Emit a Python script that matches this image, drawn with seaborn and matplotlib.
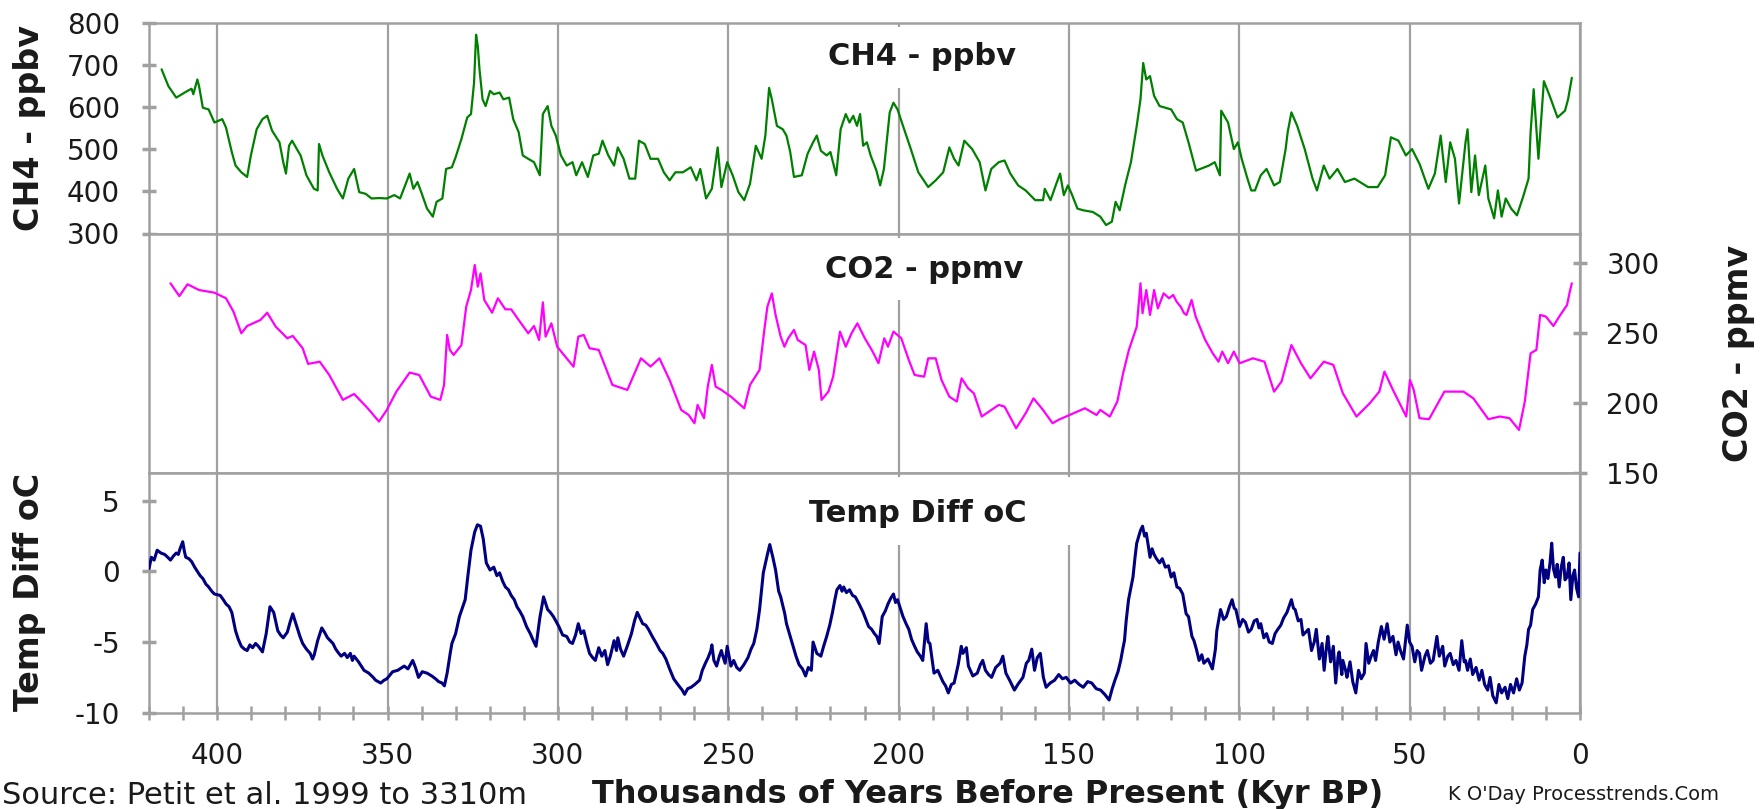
import matplotlib
matplotlib.use("Agg")
import matplotlib.pyplot as plt
import pandas as pd
import seaborn as sns
from matplotlib.patches import Rectangle
from matplotlib.ticker import MultipleLocator

# ---------------- data ----------------
ch4_age = [416.3, 414.3, 412.0, 408.7, 407.5, 407.0, 405.8, 405.3, 404.2, 402.5, 400.8, 398.5, 397.4,
           395.7, 394.6, 392.9, 391.2, 390.1, 388.4, 386.7, 385.3, 383.9, 381.7, 380.6, 379.8, 378.9,
           378.0, 376.6, 375.5, 373.8, 371.6, 370.5, 370.1, 369.1, 367.1, 364.8, 363.1, 361.5, 359.8,
           358.3, 356.4, 354.7, 352.5, 350.2, 348.0, 346.3, 343.5, 342.4, 341.2, 340.1, 338.4, 336.7,
           335.6, 333.9, 332.8, 331.1, 330.0, 328.3, 326.6, 325.5, 324.6, 324.0, 323.5, 323.0, 322.1,
           321.2, 319.9, 318.8, 317.1, 316.0, 314.3, 313.1, 311.5, 310.3, 308.7, 307.0, 305.3, 304.4,
           303.0, 301.9, 300.6, 299.1, 297.4, 295.7, 294.6, 292.9, 291.2, 289.6, 288.0, 286.9, 285.2,
           283.5, 282.4, 280.7, 279.0, 277.3, 276.2, 274.5, 272.8, 270.6, 268.9, 267.2, 265.5, 263.3,
           261.0, 259.3, 258.2, 256.5, 254.8, 253.1, 252.0, 250.3, 248.7, 247.0, 245.3, 243.6, 241.9,
           240.2, 239.1, 238.0, 237.2, 235.7, 234.0, 232.9, 231.8, 230.7, 228.4, 226.7, 225.1, 224.0,
           222.8, 221.1, 220.0, 218.3, 217.0, 215.5, 214.4, 213.3, 212.2, 211.3, 210.4, 209.3, 208.2,
           206.5, 205.4, 204.3, 202.6, 201.5, 200.3, 198.7, 196.4, 194.2, 191.3, 189.1, 186.9, 185.1,
           183.7, 182.4, 180.7, 178.4, 176.2, 174.5, 172.8, 170.6, 168.9, 167.2, 164.9, 162.7, 159.9,
           157.6, 157.1, 155.4, 153.7, 152.6, 151.5, 150.3, 149.2, 147.5, 145.8, 143.0, 140.8, 139.1,
           137.4, 136.3, 135.1, 133.4, 131.8, 130.1, 129.0, 128.2, 127.3, 126.2, 125.0, 123.4, 121.7,
           120.0, 118.3, 116.6, 114.9, 112.7, 108.9, 107.2, 105.7, 105.3, 103.3, 101.6, 100.4, 99.3,
           97.6, 96.5, 95.4, 93.7, 92.0, 89.8, 88.1, 86.4, 85.8, 84.7, 83.0, 80.8, 78.5, 77.2, 75.2,
           73.5, 71.2, 69.0, 66.2, 62.2, 59.4, 57.2, 55.5, 53.3, 51.1, 49.3, 47.1, 44.5, 42.6, 40.9,
           39.4, 38.1, 36.7, 35.5, 33.6, 33.0, 31.9, 30.8, 29.7, 27.8, 26.9, 25.2, 24.1, 23.0, 21.8,
           20.2, 18.5, 16.7, 15.1, 14.5, 13.6, 12.2, 10.6, 8.9, 6.6, 4.4, 3.5, 2.4]
ch4_ppbv = [689, 649, 622, 638, 643, 630, 665, 649, 598, 594, 563, 571, 551,
            493, 461, 445, 434, 485, 547, 571, 579, 544, 516, 469, 442, 508,
            520, 500, 485, 438, 406, 402, 512, 485, 445, 406, 383, 430, 453,
            398, 394, 383, 384, 383, 391, 383, 442, 406, 422, 398, 359, 340,
            375, 383, 453, 457, 481, 524, 575, 583, 657, 771, 744, 689, 618,
            602, 638, 630, 634, 618, 622, 571, 540, 485, 477, 469, 438, 583,
            602, 555, 532, 485, 461, 469, 438, 469, 434, 485, 489, 520, 485,
            461, 504, 477, 430, 430, 520, 512, 477, 477, 445, 426, 445, 445,
            457, 426, 453, 383, 406, 504, 410, 469, 438, 398, 379, 418, 508,
            477, 532, 645, 618, 555, 547, 532, 493, 434, 438, 489, 516, 532,
            496, 485, 493, 438, 547, 583, 563, 579, 555, 583, 508, 516, 485,
            449, 414, 453, 587, 610, 594, 555, 500, 445, 410, 426, 445, 504,
            477, 461, 520, 500, 469, 402, 453, 469, 473, 442, 414, 402, 379,
            379, 406, 379, 418, 442, 391, 414, 394, 359, 355, 351, 340, 320,
            328, 375, 355, 418, 469, 555, 618, 704, 665, 673, 626, 602, 598,
            594, 571, 563, 516, 449, 461, 469, 438, 591, 563, 500, 516, 477,
            430, 402, 402, 438, 453, 414, 422, 500, 540, 587, 555, 500, 430, 402, 461,
            430, 453, 422, 430, 410, 410, 438, 528, 520, 485, 500, 465, 406, 442, 532,
            422, 516, 477, 371, 516, 547, 398, 485, 391, 461, 383, 336, 402, 340, 383,
            359, 343, 387, 430, 540, 642, 477, 661, 626, 575, 591, 618, 669]

co2_age = [413.7, 411.1, 408.7, 405.3, 400.8, 397.4, 395.2, 392.9, 391.2, 387.3, 385.3, 382.8, 379.4,
           377.8, 374.9, 373.3, 369.9, 367.1, 363.1, 359.8, 355.8, 352.5, 350.2, 347.4, 343.5, 340.7,
           337.3, 334.5, 333.4, 332.5, 331.7, 330.6, 328.3, 326.9, 325.5, 324.4, 323.5, 322.7, 321.6,
           319.3, 317.6, 315.4, 313.7, 311.5, 308.7, 307.0, 305.5, 304.4, 303.6, 301.9, 300.2, 297.4,
           295.4, 294.0, 292.4, 290.7, 288.0, 284.0, 279.6, 275.6, 272.8, 270.2, 267.2, 263.8, 261.6,
           259.9, 259.0, 257.1, 256.0, 254.8, 253.7, 252.0, 249.2, 245.3, 243.6, 240.8, 239.4, 238.5,
           237.2, 236.1, 234.6, 233.5, 232.4, 230.7, 229.6, 227.3, 226.2, 224.8, 223.4, 222.6, 220.6,
           219.2, 217.2, 215.5, 213.8, 212.1, 209.9, 207.6, 205.9, 204.2, 203.1, 201.5, 199.2, 197.0,
           195.3, 192.5, 191.3, 189.1, 187.4, 185.1, 182.9, 181.5, 179.6, 177.9, 175.6, 172.8, 170.6,
           168.9, 165.5, 162.7, 160.4, 157.6, 154.8, 153.1, 148.7, 145.3, 141.9, 140.8, 138.0, 135.8,
           134.1, 132.4, 130.1, 129.0, 128.4, 127.3, 126.2, 125.0, 123.9, 122.2, 120.6, 119.4, 118.4,
           117.2, 116.2, 115.5, 114.0, 112.8, 110.0, 107.8, 106.1, 105.0, 103.3, 101.6, 99.9, 96.0,
           92.6, 89.8, 87.6, 84.7, 81.9, 79.1, 75.2, 72.4, 69.6, 65.6, 61.7, 58.9, 57.4, 54.9, 51.0,
           49.9, 48.8, 47.1, 44.3, 39.8, 34.2, 31.3, 26.9, 23.5, 20.7, 17.9, 16.2, 14.5, 12.8, 11.7,
           10.0, 7.8, 6.1, 3.8, 3.0, 2.4]
co2_ppmv = [285.2, 276.1, 284.5, 280.4, 278.5, 274.5, 264.9, 249.5, 254.7, 259.0, 264.2, 254.2, 245.9,
            247.6, 238.8, 227.6, 229.2, 219.7, 201.9, 206.1, 195.9, 186.4, 194.7, 207.8, 221.4, 219.7,
            204.2, 201.9, 212.6, 248.3, 237.6, 234.0, 241.1, 268.5, 280.4, 298.3, 282.8, 292.3, 273.3,
            264.2, 274.5, 266.6, 266.6, 259.0, 249.5, 254.7, 244.7, 271.6, 247.1, 256.6, 239.9, 231.6,
            225.6, 247.1, 248.3, 238.8, 237.6, 212.6, 209.0, 231.6, 225.7, 231.6, 216.1, 194.7, 191.1,
            185.2, 198.3, 188.8, 211.4, 226.9, 211.4, 209.0, 204.2, 195.9, 212.6, 223.3, 251.9, 268.5,
            278.0, 262.6, 247.1, 239.9, 245.9, 251.9, 244.7, 241.1, 223.3, 236.4, 223.3, 201.9, 207.8,
            218.5, 250.7, 239.9, 249.5, 256.6, 245.9, 236.4, 228.1, 245.9, 239.9, 250.7, 245.9, 230.4,
            219.7, 218.5, 231.6, 231.6, 216.1, 204.2, 200.7, 217.3, 210.2, 206.6, 190.0, 194.7, 198.3,
            197.1, 181.6, 192.3, 203.0, 194.7, 185.2, 187.6, 192.3, 195.9, 191.1, 194.7, 190.0, 200.7,
            220.9, 237.6, 254.2, 285.2, 263.8, 280.4, 262.6, 280.4, 267.3, 278.0, 274.5, 276.9, 272.1,
            268.5, 263.8, 262.6, 273.3, 261.4, 244.7, 235.2, 229.2, 236.4, 228.1, 236.4, 228.1, 231.6,
            229.2, 207.8, 215.0, 241.1, 228.1, 217.3, 229.2, 226.9, 206.6, 190.0, 199.5, 207.8, 222.1, 209.0, 190.0,
            216.1, 209.0, 188.8, 188.1, 207.8, 207.8, 203.0, 188.1, 190.0, 188.8, 180.4, 200.7, 235.2, 237.6, 262.6,
            261.4, 254.7, 261.4, 269.7, 279.2, 285.2]

temp_age = [420.0, 419.3, 418.5, 417.6, 416.5, 415.4, 414.5, 413.7, 412.8, 412.0, 411.4, 410.9, 410.1,
            409.6, 409.2, 408.3, 407.5, 406.6, 405.8, 405.0, 404.2, 403.3, 402.5, 401.6, 400.8, 399.1,
            398.2, 397.4, 396.5, 395.7, 394.6, 393.8, 392.9, 392.0, 391.2, 390.4, 389.6, 388.7, 387.9,
            386.7, 385.6, 384.5, 383.4, 382.2, 381.4, 380.6, 379.4, 378.6, 377.8, 376.6, 375.7, 374.9,
            373.8, 372.7, 372.0, 371.5, 370.5, 369.3, 368.5, 367.6, 366.0, 365.2, 364.3, 363.6, 362.6,
            361.8, 360.9, 360.3, 359.8, 358.5, 356.9, 355.5, 354.2, 353.5, 352.0, 351.0, 350.2, 349.5,
            348.5, 347.0, 345.1, 344.0, 342.6, 341.8, 340.9, 339.8, 338.4, 337.0, 335.9, 335.0, 334.0,
            333.3, 332.5, 331.6, 331.1, 330.0, 328.9, 327.2, 326.4, 325.5, 324.4, 323.6, 322.7, 321.9,
            321.0, 319.9, 318.8, 317.9, 317.1, 316.2, 315.4, 314.5, 313.7, 312.8, 312.0, 311.2, 310.3,
            309.2, 308.1, 307.2, 306.4, 305.3, 304.2, 303.0, 302.2, 301.3, 299.7, 298.6, 297.4, 296.5,
            295.7, 294.8, 294.0, 293.2, 292.4, 291.5, 290.7, 289.8, 289.0, 288.0, 287.1, 286.2, 285.4,
            284.6, 283.5, 282.8, 282.4, 281.6, 280.7, 279.5, 278.4, 277.5, 276.7, 275.9, 275.1, 274.2,
            273.4, 272.3, 271.1, 270.0, 269.2, 268.3, 267.2, 266.0, 264.8, 263.5, 262.8, 261.9, 260.9,
            259.8, 258.4, 257.6, 256.7, 255.9, 255.1, 254.8, 254.2, 253.4, 252.6, 252.0, 251.7, 250.9,
            250.3, 249.2, 248.4, 247.5, 246.6, 245.4, 244.2, 243.3, 242.5, 241.6, 240.8, 239.7, 238.5,
            237.8, 237.3, 236.9, 236.1, 235.2, 234.6, 234.0, 233.4, 232.9, 231.2, 230.1, 229.2, 228.2,
            227.3, 226.5, 225.6, 225.1, 224.0, 222.8, 222.0, 221.1, 220.2, 219.4, 218.7, 218.1, 217.2,
            216.6, 216.1, 215.3, 214.4, 213.5, 212.7, 211.6, 210.4, 209.6, 208.8, 207.9, 207.1, 206.4,
            205.7, 204.8, 203.9, 203.1, 202.3, 201.5, 200.9, 200.3, 199.5, 198.7, 197.8, 197.0, 196.2,
            195.3, 194.5, 193.6, 192.9, 191.9, 191.3, 190.8, 189.6, 188.5, 187.0, 186.2, 185.4, 184.5,
            183.7, 182.5, 181.6, 181.1, 180.1, 179.5, 178.2, 176.9, 176.0, 175.3, 174.5, 173.6, 172.7,
            171.5, 170.2, 169.4, 168.5, 167.2, 166.0, 165.0, 163.5, 162.5, 161.8, 160.9, 160.1, 159.3,
            158.4, 157.5, 156.7, 155.5, 154.2, 153.0, 151.9, 150.8, 149.5, 148.3, 147.0, 145.8, 144.5,
            143.3, 142.0, 140.7, 139.5, 138.2, 137.3, 136.5, 135.6, 134.8, 134.2, 133.7, 133.2, 132.5,
            131.7, 131.2, 130.6, 130.1, 129.5, 129.0, 128.4, 127.8, 127.3, 126.7, 126.2, 125.6, 125.0,
            124.3, 123.4, 122.6, 121.7, 120.8, 120.0, 119.2, 118.3, 117.5, 116.6, 115.6, 114.9, 113.9,
            113.3, 112.6, 111.8, 111.0, 110.4, 109.2, 107.9, 107.0, 106.6, 105.5, 104.6, 103.8, 102.9,
            102.1, 101.5, 101.0, 99.9, 99.0, 98.2, 97.3, 96.5, 95.6, 94.8, 94.2, 93.7, 92.8, 92.0,
            91.2, 90.3, 89.5, 88.7, 87.8, 87.0, 86.0, 84.7, 84.1, 83.6, 82.7, 81.9, 81.3, 80.5, 79.7,
            78.8, 78.0, 77.4, 76.5, 75.7, 75.1, 74.4, 74.0, 73.2, 72.4, 71.7, 71.0, 70.7, 69.9, 69.6,
            68.8, 68.4, 67.5, 66.7, 65.8, 65.0, 64.2, 63.3, 62.8, 62.0, 61.3, 60.6, 60.0, 59.2, 58.3,
            57.5, 56.6, 55.8, 54.9, 54.0, 53.4, 52.7, 51.8, 50.7, 50.0, 49.3, 48.5, 47.8, 47.1, 46.5,
            45.5, 44.8, 43.9, 43.1, 42.0, 41.3, 40.3, 39.7, 38.8, 38.1, 37.2, 36.4, 35.5, 34.7, 34.0,
            33.6, 33.0, 32.2, 31.5, 30.5, 29.6, 28.8, 28.0, 27.1, 26.4, 25.6, 24.6, 23.8, 23.0, 22.0,
            21.2, 20.4, 19.5, 18.6, 17.8, 17.0, 16.2, 15.6, 15.1, 14.5, 13.9, 13.0, 12.2, 11.7, 11.1,
            10.5, 10.0, 9.4, 8.8, 8.3, 7.8, 7.2, 6.7, 6.1, 5.5, 4.9, 4.4, 3.8, 3.2, 2.7, 2.1, 1.6,
            1.0, 0.4, 0.0]
temp_diff = [0.2, 1.0, 0.8, 1.5, 1.3, 1.2, 1.0, 0.8, 1.1, 1.3, 1.2, 1.6, 2.1,
             1.4, 1.0, 0.9, 0.7, 0.3, 0.0, -0.3, -0.5, -0.9, -1.1, -1.4, -1.6, -1.7,
             -2.0, -2.3, -2.5, -2.9, -4.2, -4.8, -5.3, -5.5, -5.6, -5.2, -5.4, -5.1, -5.3,
             -5.7, -4.4, -2.5, -2.9, -4.2, -4.5, -4.7, -4.3, -3.6, -3.0, -3.9, -4.6, -5.1,
             -5.5, -5.8, -6.2, -5.9, -4.9, -4.0, -4.3, -4.7, -5.1, -5.5, -5.8, -6.0, -5.8,
             -6.1, -5.8, -6.3, -6.0, -6.4, -7.0, -7.2, -7.5, -7.7, -7.9, -7.7, -7.6, -7.4,
             -7.1, -7.0, -6.7, -6.9, -6.3, -6.8, -7.5, -7.1, -7.2, -7.4, -7.6, -7.8, -7.9,
             -8.1, -7.2, -5.8, -5.1, -4.4, -3.2, -2.0, -0.3, 1.5, 2.8, 3.3, 3.2, 2.3,
             0.6, 0.1, 0.3, -0.3, -0.1, -0.7, -1.1, -1.3, -1.7, -2.0, -2.5, -2.8, -3.2,
             -3.9, -4.4, -4.9, -5.3, -3.3, -1.8, -2.7, -2.9, -3.2, -3.9, -4.5, -4.6, -5.0,
             -5.1, -4.5, -3.7, -4.4, -4.2, -5.1, -5.8, -6.1, -6.3, -5.4, -6.0, -5.6, -6.6,
             -6.0, -4.9, -5.6, -4.7, -5.5, -6.0, -5.2, -4.4, -3.5, -2.9, -3.3, -3.7, -3.8,
             -4.1, -4.6, -5.1, -5.6, -5.8, -6.2, -6.9, -7.6, -8.0, -8.4, -8.7, -8.3, -8.2,
             -8.0, -7.7, -7.0, -6.5, -6.1, -5.6, -5.2, -6.3, -6.7, -6.0, -5.6, -5.9, -6.5,
             -5.3, -6.7, -6.3, -6.8, -7.0, -6.6, -6.1, -5.5, -5.1, -4.1, -2.7, -0.1, 1.2,
             1.9, 1.4, 1.0, 0.1, -1.4, -1.8, -2.4, -3.0, -3.7, -5.1, -6.0, -6.6, -6.9,
             -7.4, -6.8, -7.0, -5.0, -5.8, -6.0, -5.3, -4.6, -3.8, -2.9, -2.0, -1.3, -1.0,
             -1.4, -1.1, -1.5, -1.3, -1.7, -1.8, -2.3, -2.9, -3.4, -3.9, -4.1, -4.4, -4.6,
             -5.1, -3.2, -2.8, -2.3, -1.9, -1.6, -2.2, -2.0, -2.6, -3.2, -3.7, -4.1, -4.8,
             -5.3, -5.7, -6.0, -6.3, -3.7, -5.0, -5.1, -7.2, -7.0, -7.8, -8.1, -8.6, -8.0,
             -7.9, -6.6, -5.3, -5.8, -5.4, -6.7, -7.4, -7.2, -6.6, -6.3, -7.0, -7.3, -7.5,
             -6.8, -6.5, -6.0, -7.2, -7.8, -8.4, -8.0, -7.5, -6.5, -6.3, -5.5, -7.0, -6.1,
             -5.8, -7.5, -8.2, -7.9, -7.7, -7.3, -7.6, -7.5, -7.9, -7.7, -8.0, -8.2, -7.8,
             -7.9, -8.3, -8.4, -8.7, -9.1, -8.3, -7.7, -7.1, -6.3, -5.5, -4.9, -3.5, -2.0,
             -1.0, -0.4, 1.0, 2.0, 2.5, 2.9, 3.2, 2.5, 2.7, 1.8, 1.0, 1.6, 1.2,
             0.9, 0.6, 0.9, 0.3, 0.4, -0.4, -0.1, -1.1, -1.2, -1.6, -3.0, -3.2, -4.6,
             -4.9, -5.5, -6.3, -5.9, -6.5, -6.2, -6.9, -5.5, -4.2, -2.7, -3.4, -3.2, -2.5,
             -2.0, -2.6, -2.7, -3.9, -3.4, -3.6, -4.3, -4.1, -3.5, -3.4, -4.0, -3.7, -4.7, -4.4,
             -5.0, -5.1, -4.4, -4.1, -3.8, -3.3, -2.9, -2.0, -2.6, -2.7, -3.5, -3.4, -4.5, -4.3, -4.1,
             -5.6, -5.0, -4.1, -6.2, -5.1, -7.0, -5.3, -4.6, -6.4, -5.3, -7.9, -6.0, -5.7, -7.3, -6.3,
             -7.0, -7.5, -6.4, -7.8, -8.6, -7.0, -7.6, -7.2, -5.1, -6.5, -6.0, -5.6, -6.3, -5.0, -3.9,
             -4.8, -3.7, -5.0, -4.6, -5.9, -5.0, -5.6, -6.2, -3.8, -5.0, -5.3, -6.4, -5.6, -5.8, -7.0,
             -6.0, -5.6, -6.5, -6.3, -4.6, -6.0, -5.3, -6.7, -6.0, -5.8, -6.6, -6.3, -7.0, -4.9, -6.4,
             -6.3, -7.0, -6.2, -7.3, -6.8, -7.7, -7.0, -8.0, -8.4, -7.5, -8.8, -9.3, -8.0, -8.6, -8.2,
             -9.0, -8.0, -8.6, -7.6, -8.4, -7.9, -6.0, -5.2, -4.1, -3.8, -2.7, -2.3, -1.8, 0.1, 0.8,
             -0.8, 0.1, -0.5, 0.6, 2.0, 0.2, -0.4, 0.5, -1.1, 0.3, 1.0, -0.6, -0.4, 0.6, -2.0, -0.3, 0.1,
             -1.2, -1.8, 1.3]

x_ticks = [400, 350, 300, 250, 200, 150, 100, 50, 0]
ch4_ticks = [300, 400, 500, 600, 700, 800]
co2_ticks = [150, 200, 250, 300]
temp_ticks = [-10, -5, 0, 5]

ch4_title = "CH4 - ppbv"
co2_title = "CO2 - ppmv"
temp_title = "Temp Diff oC"
x_title = "Thousands of Years Before Present (Kyr BP)"
source_text = "Source: Petit et al. 1999 to 3310m"
credit_text = "K O'Day Processtrends.Com"

# ---------------- styling ----------------
sns.set_theme(style="white")
plt.rcParams['font.family'] = ['DejaVu Sans']
plt.rcParams['axes.unicode_minus'] = False

W, H = 1760, 809
L, R = 149, 1580
GRAY = '#a0a0a0'
TXT = '#1a1a1a'

fig = plt.figure(figsize=(W / 100, H / 100), dpi=100)
fig.patch.set_facecolor('white')

panels = {'ch4': (22.5, 233.5), 'co2': (233.5, 472.5), 'temp': (472.5, 712.7)}


def rect(top, bottom):
    return [L / W, 1 - bottom / H, (R - L) / W, (bottom - top) / H]


ax1 = fig.add_axes(rect(*panels['ch4']))
ax2 = fig.add_axes(rect(*panels['co2']))
ax3 = fig.add_axes(rect(*panels['temp']))

df_ch4 = pd.DataFrame({'age': ch4_age, 'val': ch4_ppbv})
df_co2 = pd.DataFrame({'age': co2_age, 'val': co2_ppmv})
df_tmp = pd.DataFrame({'age': temp_age, 'val': temp_diff})

sns.lineplot(data=df_ch4, x='age', y='val', ax=ax1, color='#008000', lw=1.6,
             estimator=None, sort=False, zorder=3)
sns.lineplot(data=df_co2, x='age', y='val', ax=ax2, color='#ff00ff', lw=1.6,
             estimator=None, sort=False, zorder=3)
sns.lineplot(data=df_tmp, x='age', y='val', ax=ax3, color='#000080', lw=2.2,
             estimator=None, sort=False, zorder=3)

ax1.set_ylim(300, 800)
ax2.set_ylim(150, 320.8)
ax3.set_ylim(-10, 7.0)

for ax in (ax1, ax2, ax3):
    ax.set_xlim(420, 0)
    ax.set_xlabel('')
    ax.set_ylabel('')
    ax.set_facecolor('white')
    ax.set_axisbelow(True)
    ax.set_xticks(x_ticks)
    ax.xaxis.grid(True, color=GRAY, lw=1.6)
    ax.yaxis.grid(False)
    for s in ax.spines.values():
        s.set_color(GRAY)
        s.set_linewidth(1.8)
        s.set_visible(True)

# x ticks
for ax in (ax1, ax2):
    ax.tick_params(axis='x', which='both', length=0, labelbottom=False, bottom=False)
ax3.xaxis.set_minor_locator(MultipleLocator(10))
ax3.tick_params(axis='x', which='both', bottom=True, direction='inout', length=10,
                width=1.8, color=GRAY, labelsize=20, labelcolor=TXT, pad=16)

# y ticks
ax1.set_yticks(ch4_ticks)
ax3.set_yticks(temp_ticks)
for ax in (ax1, ax3):
    ax.tick_params(axis='y', left=True, right=False, direction='inout', length=10,
                   width=2.5, color=GRAY, labelsize=20, labelcolor=TXT, pad=16)
ax2.set_yticks(co2_ticks)
ax2.yaxis.tick_right()
ax2.tick_params(axis='y', left=False, right=True, labelleft=False, labelright=True,
                direction='inout', length=10, width=2.5, color=GRAY, labelsize=20,
                labelcolor=TXT, pad=14)


def box_and_title(ax, key, text, cx, cy, x0, x1, y0, y1):
    top, bottom = panels[key]
    hgt = bottom - top
    ax.add_patch(Rectangle(((x0 - L) / (R - L), (bottom - y1) / hgt),
                           (x1 - x0) / (R - L), (y1 - y0) / hgt,
                           transform=ax.transAxes, facecolor='white',
                           edgecolor='none', zorder=1))
    ax.text((cx - L) / (R - L), (bottom - cy) / hgt, text, transform=ax.transAxes,
            ha='center', va='center', fontsize=22, fontweight='bold', color=TXT, zorder=4)


box_and_title(ax1, 'ch4', ch4_title, 922, 56, 812, 1040, 27, 88)
box_and_title(ax2, 'co2', co2_title, 924, 270, 805, 1045, 238, 300)
box_and_title(ax3, 'temp', temp_title, 918, 513, 790, 1085, 477, 545)

# axis titles
fig.text(30 / W, 1 - 128 / H, "CH4 - ppbv", rotation=90, ha='center', va='center',
         fontsize=24, fontweight='bold', color=TXT)
fig.text(30 / W, 1 - 592 / H, "Temp Diff oC", rotation=90, ha='center', va='center',
         fontsize=24, fontweight='bold', color=TXT)
fig.text(1738 / W, 1 - 353 / H, "CO2 - ppmv", rotation=90, ha='center', va='center',
         fontsize=24, fontweight='bold', color=TXT)

fig.text(988 / W, 1 - 795 / H, x_title, ha='center', va='center', fontsize=23,
         fontweight='bold', color=TXT)
fig.text(2 / W, 1 - 795 / H, source_text, ha='left', va='center', fontsize=22, color=TXT)
fig.text(1583 / W, 1 - 795 / H, credit_text, ha='center', va='center', fontsize=14, color=TXT)

fig.savefig('out.png', dpi=100, facecolor='white')
